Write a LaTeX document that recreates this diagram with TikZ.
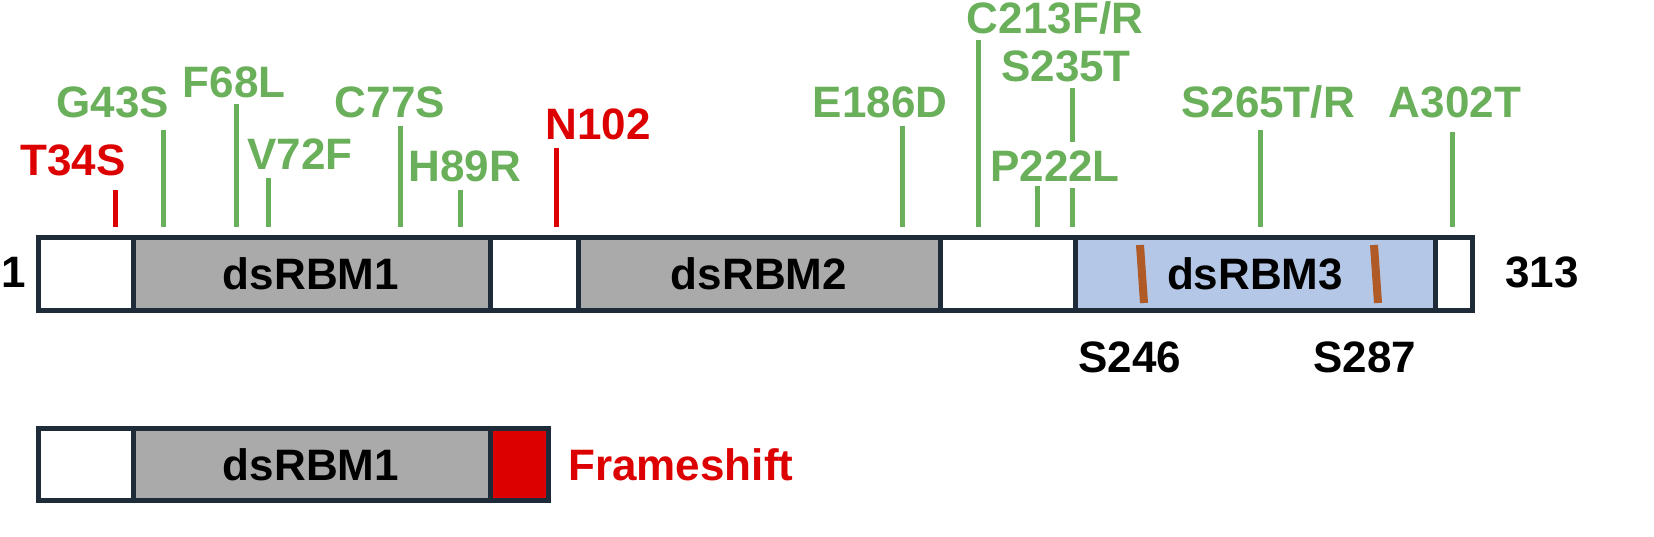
\documentclass[tikz,border=0pt]{standalone}
\usepackage{fontspec}
\setmainfont{Liberation Sans}
\definecolor{mgreen}{HTML}{6AAF5A}
\definecolor{mred}{HTML}{DD0000}
\definecolor{navy}{HTML}{1E2B38}
\definecolor{dgray}{HTML}{AAAAAA}
\definecolor{lblue}{HTML}{B4C7E7}
\definecolor{rust}{HTML}{B05A28}
\begin{document}
\begin{tikzpicture}[x=0.5pt,y=-0.5pt,
  seg/.style={draw=navy,line width=2.5pt},
  lab/.style={font=\fontsize{22}{26}\selectfont\bfseries,inner sep=0pt},
  gmut/.style={draw=mgreen,line width=2.5pt},
  rmut/.style={draw=mred,line width=2.5pt}]
\useasboundingbox (0,0) rectangle (1654,536);
% main bar
\draw[seg,fill=white] (38,237) rectangle (133,310);
\draw[seg,fill=dgray] (133,237) rectangle (490,310);
\draw[seg,fill=white] (490,237) rectangle (578,310);
\draw[seg,fill=dgray] (578,237) rectangle (940,310);
\draw[seg,fill=white] (940,237) rectangle (1075,310);
\draw[seg,fill=lblue] (1075,237) rectangle (1435,310);
\draw[seg,fill=white] (1435,237) rectangle (1472,310);
\draw[rust,line width=4pt] (1140,245) -- (1144,303);
\draw[rust,line width=4pt] (1374,245) -- (1378,303);
\node[lab] (d1) at (311,274) {dsRBM1};
\node[lab] (d2) at (759,274) {dsRBM2};
\node[lab] (d3) at (1255,274) {dsRBM3};
\node[lab] (n1) at (14,272) {1};
\node[lab] (n313) at (1542,272) {313};
\node[lab] (s246) at (1130,357) {S246};
\node[lab] (s287) at (1365,357) {S287};
% mutations
\foreach \x/\t/\lx/\ly/\txt/\c in {
 115/190/73/160/{T34S}/mred, 163/130/113/102/{G43S}/mgreen, 236/104/234/82/{F68L}/mgreen,
 268/178/300/154/{V72F}/mgreen, 400/126/390/102/{C77S}/mgreen, 460/190/465/166/{H89R}/mgreen,
 556/148/598/124/{N102}/mred, 902/126/880/102/{E186D}/mgreen, 978/40/1055/18/{C213F/R}/mgreen,
 1260/130/1268/102/{S265T/R}/mgreen, 1452/132/1455/102/{A302T}/mgreen}
 { \draw[draw=\c,line width=2.5pt] (\x,\t) -- (\x,227);
   \node[lab,text=\c] at (\lx,\ly) {\txt}; }
\draw[gmut] (1037,186) -- (1037,227);
\draw[gmut] (1072,88) -- (1072,142);
\draw[gmut] (1072,188) -- (1072,227);
\node[lab,text=mgreen] (p222) at (1055,166) {P222L};
\node[lab,text=mgreen] (s235) at (1066,66) {S235T};
% bottom bar
\draw[seg,fill=white] (38,428) rectangle (133,500);
\draw[seg,fill=dgray] (133,428) rectangle (490,500);
\draw[seg,fill=mred] (490,428) rectangle (548,500);
\node[lab] (b1) at (311,465) {dsRBM1};
\node[lab,text=mred,anchor=west] (fs) at (568,465) {Frameshift};
\end{tikzpicture}
\end{document}
